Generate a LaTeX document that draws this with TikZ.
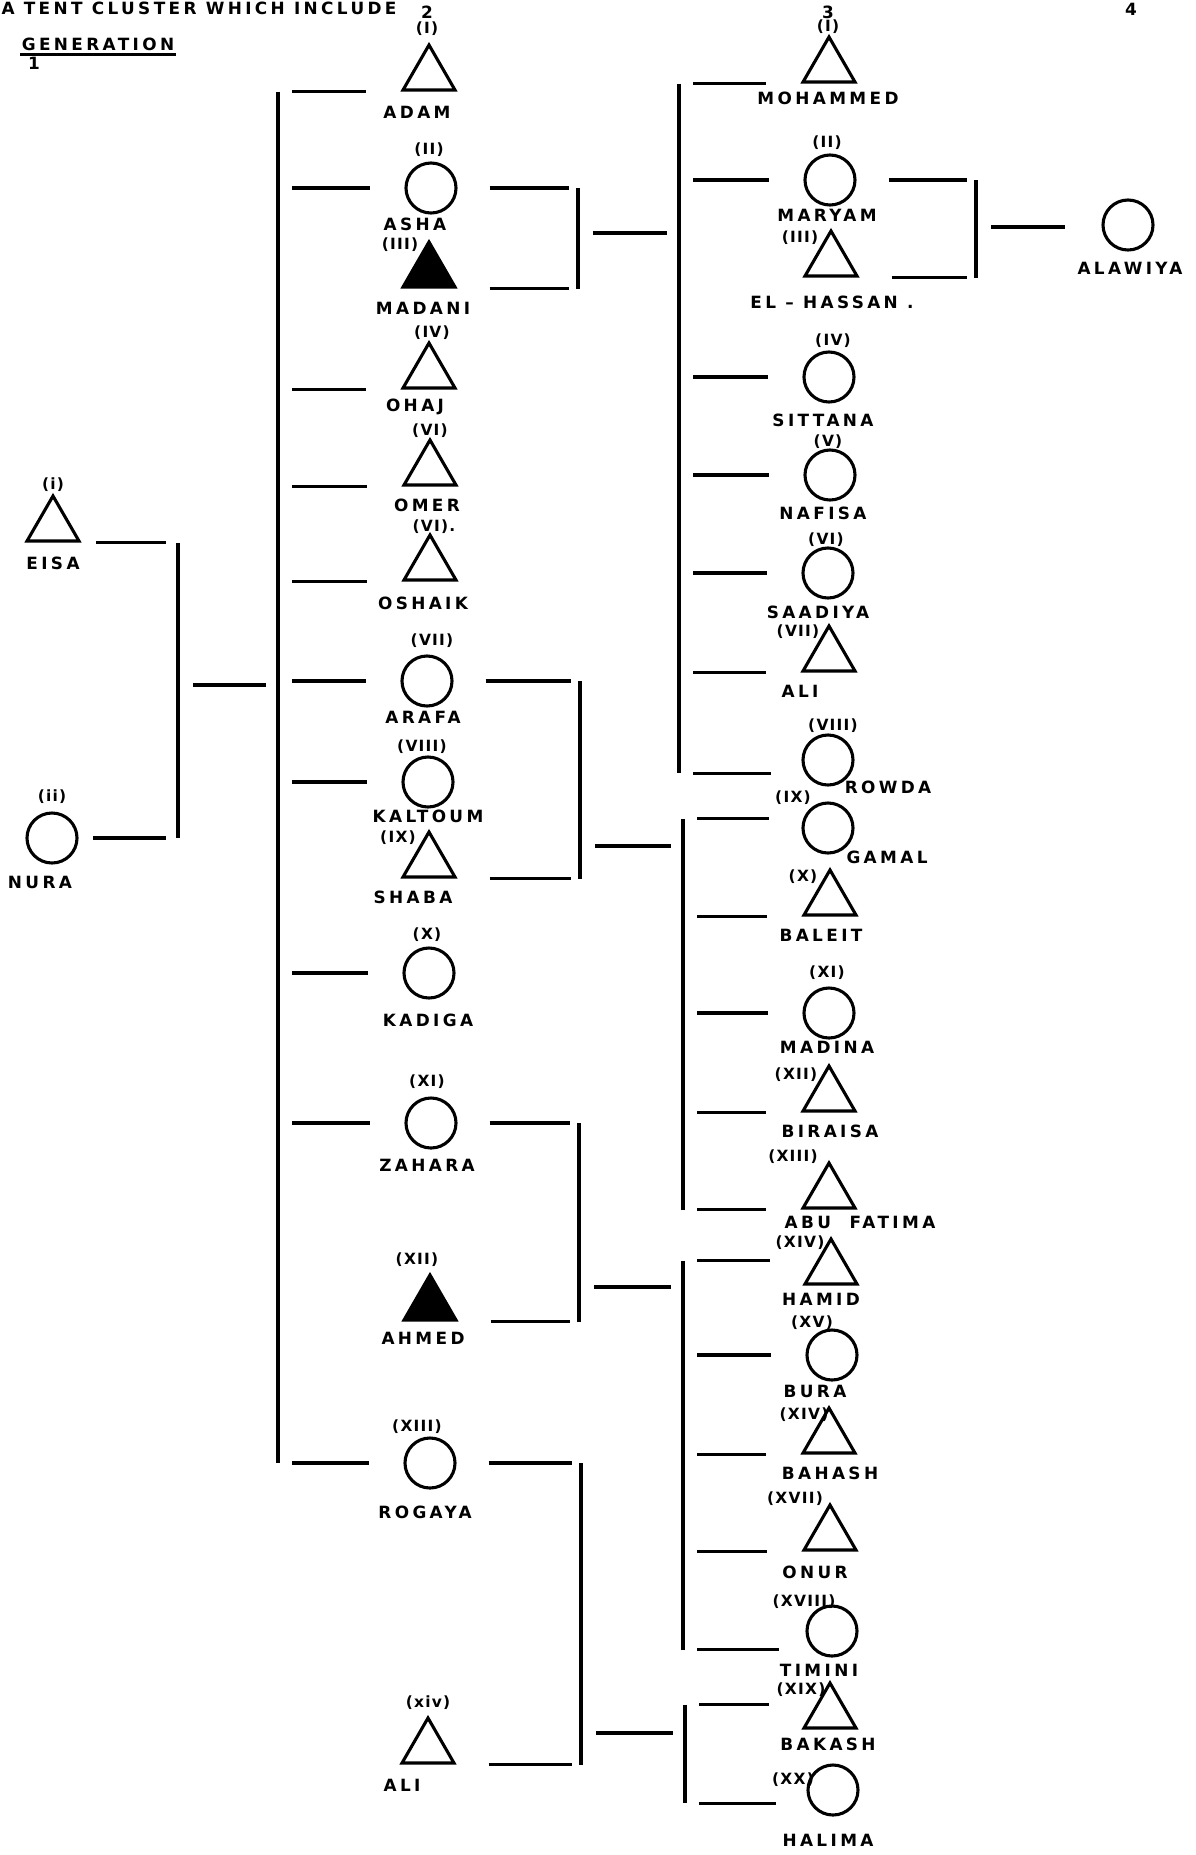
\documentclass[tikz,border=0pt]{standalone}
\usepackage{fontspec}
\newfontfamily\stencil{DejaVu Sans}[LetterSpace=20]
\newfontfamily\stencilnum{DejaVu Sans}[LetterSpace=8]
\usepackage{tikz}
\usetikzlibrary{shapes.geometric}

\begin{document}
\begin{tikzpicture}[x=0.025cm, y=-0.025cm, line width=2.2pt,
  fem/.style={draw, circle, minimum size=1.25cm, inner sep=0pt},
  male/.style={draw, regular polygon, regular polygon sides=3, minimum size=1.5cm, inner sep=0pt},
  dead/.style={male, fill=black},
  nm/.style={font=\stencil\bfseries\fontsize{12pt}{12pt}\selectfont, inner sep=0pt},
  num/.style={font=\stencilnum\bfseries\fontsize{11pt}{11pt}\selectfont, inner sep=0pt},
  kid/.style={shorten <=0.35cm, shorten >=0.85cm},
  sib/.style={shorten <=0.8cm, shorten >=0.22cm},
  link/.style={shorten <=0.37cm, shorten >=0.3cm}]
  \useasboundingbox (0,0) rectangle (1196,1855);

  \node (title) [nm, anchor=base west] at (0,14) {A TENT CLUSTER WHICH INCLUDE};
  \node (page) [nm] at (1131,9) {4};
  \node (gen) [nm] at (98,44) {GENERATION};
  \draw ([yshift=-2pt]gen.south west) -- ([yshift=-2pt]gen.south east);
  \node (gen1) [nm] at (34,63) {1};
  \node (gen2) [nm] at (427,12) {2};
  \node (gen3) [nm] at (828,12) {3};

  \node (eisa) [male] at (53,526) {};
  \node (eisa-no) [num] at (53,485) {(i)};
  \node (eisa-nm) [nm] at (53,563) {EISA};
  \node (nura) [fem] at (52,838) {};
  \node (nura-no) [num] at (52,797) {(ii)};
  \node (nura-nm) [nm] at (40,882) {NURA};

  \node (adam) [male] at (429,75) {};
  \node (adam-no) [num] at (427,29) {(I)};
  \node (adam-nm) [nm] at (417,112) {ADAM};
  \node (asha) [fem] at (431,188) {};
  \node (asha-no) [num] at (429,150) {(II)};
  \node (asha-nm) [nm] at (415,224) {ASHA};
  \node (madani) [dead] at (429,272) {};
  \node (madani-no) [num] at (400,245) {(III)};
  \node (madani-nm) [nm] at (423,308) {MADANI};
  \node (ohaj) [male] at (429,373) {};
  \node (ohaj-no) [num] at (432,333) {(IV)};
  \node (ohaj-nm) [nm] at (415,407) {OHAJ};
  \node (omer) [male] at (430,470) {};
  \node (omer-no) [num] at (430,431) {(VI)};
  \node (omer-nm) [nm] at (427,505) {OMER};
  \node (oshaik) [male] at (430,565) {};
  \node (oshaik-no) [num] at (434,527) {(VI).};
  \node (oshaik-nm) [nm] at (423,603) {OSHAIK};
  \node (arafa) [fem] at (427,681) {};
  \node (arafa-no) [num] at (432,641) {(VII)};
  \node (arafa-nm) [nm] at (423,717) {ARAFA};
  \node (kaltoum) [fem] at (428,782) {};
  \node (kaltoum-no) [num] at (422,747) {(VIII)};
  \node (kaltoum-nm) [nm] at (428,816) {KALTOUM};
  \node (shaba) [male] at (429,862) {};
  \node (shaba-no) [num] at (398,838) {(IX)};
  \node (shaba-nm) [nm] at (413,897) {SHABA};
  \node (kadiga) [fem] at (429,973) {};
  \node (kadiga-no) [num] at (427,935) {(X)};
  \node (kadiga-nm) [nm] at (428,1020) {KADIGA};
  \node (zahara) [fem] at (431,1123) {};
  \node (zahara-no) [num] at (427,1082) {(XI)};
  \node (zahara-nm) [nm] at (427,1165) {ZAHARA};
  \node (ahmed) [dead] at (430,1305) {};
  \node (ahmed-no) [num] at (417,1260) {(XII)};
  \node (ahmed-nm) [nm] at (423,1338) {AHMED};
  \node (rogaya) [fem] at (430,1463) {};
  \node (rogaya-no) [num] at (417,1427) {(XIII)};
  \node (rogaya-nm) [nm] at (425,1512) {ROGAYA};
  \node (ali) [male] at (428,1748) {};
  \node (ali-no) [num] at (428,1703) {(xiv)};
  \node (ali-nm) [nm] at (402,1785) {ALI};

  \node (mohammed) [male] at (829,67) {};
  \node (mohammed-no) [num] at (828,27) {(I)};
  \node (mohammed-nm) [nm] at (828,98) {MOHAMMED};
  \node (maryam) [fem] at (830,180) {};
  \node (maryam-no) [num] at (827,143) {(II)};
  \node (maryam-nm) [nm] at (827,215) {MARYAM};
  \node (hassan) [male] at (831,261) {};
  \node (hassan-no) [num] at (800,238) {(III)};
  \node (hassan-nm) [nm] at (832,302) {EL – HASSAN .};
  \node (sittana) [fem] at (829,377) {};
  \node (sittana-no) [num] at (833,341) {(IV)};
  \node (sittana-nm) [nm] at (823,420) {SITTANA};
  \node (nafisa) [fem] at (830,475) {};
  \node (nafisa-no) [num] at (828,442) {(V)};
  \node (nafisa-nm) [nm] at (823,513) {NAFISA};
  \node (saadiya) [fem] at (828,573) {};
  \node (saadiya-no) [num] at (826,540) {(VI)};
  \node (saadiya-nm) [nm] at (818,612) {SAADIYA};
  \node (alii) [male] at (829,656) {};
  \node (alii-no) [num] at (798,632) {(VII)};
  \node (alii-nm) [nm] at (800,691) {ALI};
  \node (rowda) [fem] at (828,760) {};
  \node (rowda-no) [num] at (833,726) {(VIII)};
  \node (rowda-nm) [nm] at (888,787) {ROWDA};
  \node (gamal) [fem] at (828,828) {};
  \node (gamal-no) [num] at (793,798) {(IX)};
  \node (gamal-nm) [nm] at (887,857) {GAMAL};
  \node (baleit) [male] at (830,900) {};
  \node (baleit-no) [num] at (803,877) {(X)};
  \node (baleit-nm) [nm] at (821,935) {BALEIT};
  \node (madina) [fem] at (829,1013) {};
  \node (madina-no) [num] at (827,973) {(XI)};
  \node (madina-nm) [nm] at (827,1047) {MADINA};
  \node (biraisa) [male] at (829,1096) {};
  \node (biraisa-no) [num] at (796,1075) {(XII)};
  \node (biraisa-nm) [nm] at (830,1131) {BIRAISA};
  \node (abufatima) [male] at (829,1193) {};
  \node (abufatima-no) [num] at (793,1157) {(XIII)};
  \node (abufatima-nm) [nm] at (860,1222) {ABU\ \ FATIMA};
  \node (hamid) [male] at (831,1269) {};
  \node (hamid-no) [num] at (800,1243) {(XIV)};
  \node (hamid-nm) [nm] at (821,1299) {HAMID};
  \node (bura) [fem] at (832,1355) {};
  \node (bura-no) [num] at (812,1323) {(XV)};
  \node (bura-nm) [nm] at (815,1391) {BURA};
  \node (bahash) [male] at (829,1438) {};
  \node (bahash-no) [num] at (804,1415) {(XIV)};
  \node (bahash-nm) [nm] at (830,1473) {BAHASH};
  \node (onur) [male] at (830,1535) {};
  \node (onur-no) [num] at (795,1499) {(XVII)};
  \node (onur-nm) [nm] at (815,1572) {ONUR};
  \node (timini) [fem] at (832,1631) {};
  \node (timini-no) [num] at (804,1602) {(XVIII)};
  \node (timini-nm) [nm] at (819,1670) {TIMINI};
  \node (bakash) [male] at (830,1713) {};
  \node (bakash-no) [num] at (801,1690) {(XIX)};
  \node (bakash-nm) [nm] at (828,1744) {BAKASH};
  \node (halima) [fem] at (833,1790) {};
  \node (halima-no) [num] at (793,1780) {(XX)};
  \node (halima-nm) [nm] at (828,1840) {HALIMA};

  \node (alawiya) [fem] at (1128,225) {};
  \node (alawiya-nm) [nm] at (1130,268) {ALAWIYA};

  \coordinate (p1) at (178,685);
  \coordinate (g2) at (278,0);
  \coordinate (b1) at (578,233);
  \coordinate (b2) at (580,846);
  \coordinate (b3) at (579,1287);
  \coordinate (b4) at (581,1733);
  \coordinate (g3a) at (679,0);
  \coordinate (g3b) at (683,0);
  \coordinate (g3c) at (683,0);
  \coordinate (g3d) at (685,0);
  \coordinate (b5) at (976,227);

  \draw[link] (eisa.corner 3) -- (p1 |- eisa.corner 3);
  \draw[link] (nura.east) -- (p1 |- nura.east);
  \draw (p1 |- eisa.corner 3) -- (p1 |- nura.east);
  \draw[link] (p1) -- (p1 -| g2);

  \draw (g2 |- adam.corner 2) -- (g2 |- rogaya.west);
  \draw[kid] (g2 |- adam.corner 2) -- (adam.corner 2);
  \draw[kid] (g2 |- asha.west) -- (asha.west);
  \draw[kid] (g2 |- ohaj.corner 2) -- (ohaj.corner 2);
  \draw[kid] (g2 |- omer.corner 2) -- (omer.corner 2);
  \draw[kid] (g2 |- oshaik.corner 2) -- (oshaik.corner 2);
  \draw[kid] (g2 |- arafa.west) -- (arafa.west);
  \draw[kid] (g2 |- kaltoum.west) -- (kaltoum.west);
  \draw[kid] (g2 |- kadiga.west) -- (kadiga.west);
  \draw[kid] (g2 |- zahara.west) -- (zahara.west);
  \draw[kid] (g2 |- rogaya.west) -- (rogaya.west);

  \draw[sib] (asha.east) -- (b1 |- asha.east);
  \draw[sib] (madani.corner 3) -- (b1 |- madani.corner 3);
  \draw (b1 |- asha.east) -- (b1 |- madani.corner 3);
  \draw[link] (b1) -- (b1 -| g3a);
  \draw[sib] (arafa.east) -- (b2 |- arafa.east);
  \draw[sib] (shaba.corner 3) -- (b2 |- shaba.corner 3);
  \draw (b2 |- arafa.east) -- (b2 |- shaba.corner 3);
  \draw[link] (b2) -- (b2 -| g3b);
  \draw[sib] (zahara.east) -- (b3 |- zahara.east);
  \draw[sib] (ahmed.corner 3) -- (b3 |- ahmed.corner 3);
  \draw (b3 |- zahara.east) -- (b3 |- ahmed.corner 3);
  \draw[link] (b3) -- (b3 -| g3c);
  \draw[sib] (rogaya.east) -- (b4 |- rogaya.east);
  \draw[sib] (ali.corner 3) -- (b4 |- ali.corner 3);
  \draw (b4 |- rogaya.east) -- (b4 |- ali.corner 3);
  \draw[link] (b4) -- (b4 -| g3d);

  \draw (g3a |- mohammed.corner 2) -- (g3a |- rowda.210);
  \draw[kid] (g3a |- mohammed.corner 2) -- (mohammed.corner 2);
  \draw[kid] (g3a |- maryam.west) -- (maryam.west);
  \draw[kid] (g3a |- sittana.west) -- (sittana.west);
  \draw[kid] (g3a |- nafisa.west) -- (nafisa.west);
  \draw[kid] (g3a |- saadiya.west) -- (saadiya.west);
  \draw[kid] (g3a |- alii.corner 2) -- (alii.corner 2);
  \draw[kid] (g3a |- rowda.210) -- (rowda.210);

  \draw (g3b |- gamal.160) -- (g3b |- abufatima.corner 2);
  \draw[kid] (g3b |- gamal.160) -- (gamal.160);
  \draw[kid] (g3b |- baleit.corner 2) -- (baleit.corner 2);
  \draw[kid] (g3b |- madina.west) -- (madina.west);
  \draw[kid] (g3b |- biraisa.corner 2) -- (biraisa.corner 2);
  \draw[kid] (g3b |- abufatima.corner 2) -- (abufatima.corner 2);

  \draw (g3c |- hamid.150) -- (g3c |- timini.south west);
  \draw[kid, shorten >=1.175cm] (g3c |- hamid.150) -- (hamid.150);
  \draw[kid] (g3c |- bura.west) -- (bura.west);
  \draw[kid] (g3c |- bahash.corner 2) -- (bahash.corner 2);
  \draw[kid] (g3c |- onur.corner 2) -- (onur.corner 2);
  \draw[kid] (g3c |- timini.south west) -- (timini.south west);

  \draw (g3d |- bakash.150) -- (g3d |- halima.210);
  \draw[kid, shorten >=1.175cm] (g3d |- bakash.150) -- (bakash.150);
  \draw[kid] (g3d |- halima.210) -- (halima.210);

  \draw[sib] (maryam.east) -- (b5 |- maryam.east);
  \draw[sib] (hassan.corner 3) -- (b5 |- hassan.corner 3);
  \draw (b5 |- maryam.east) -- (b5 |- hassan.corner 3);
  \draw[link, shorten >=0.9cm] (b5) -- (b5 -| alawiya.west);
\end{tikzpicture}
\end{document}
